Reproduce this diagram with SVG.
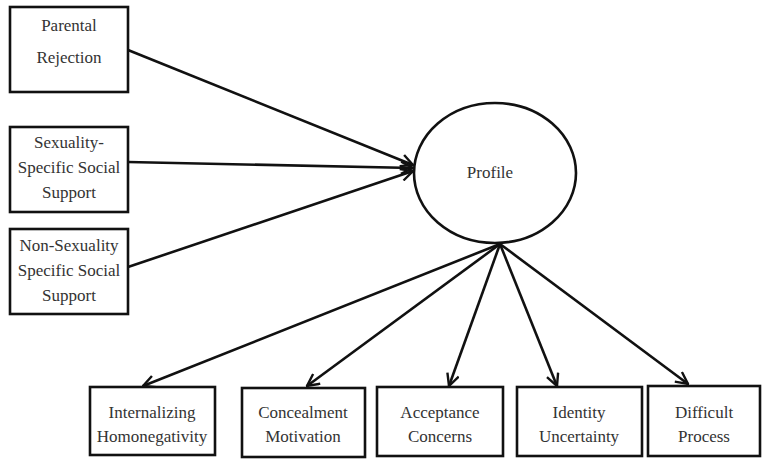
<svg xmlns="http://www.w3.org/2000/svg" width="768" height="460" viewBox="0 0 768 460">
<style>
.box{fill:#fff;stroke:#111;stroke-width:2.6}
.lbl{font-family:"Liberation Serif","Times New Roman",serif;font-size:17px;fill:#333;text-anchor:middle}
.con{stroke:#111;stroke-width:2.6;fill:none;marker-end:url(#ah)}
</style>
<defs>
<marker id="ah" viewBox="0 0 14 14" refX="13" refY="7" markerWidth="14" markerHeight="14" markerUnits="userSpaceOnUse" orient="auto">
<path d="M1,1 L13,7 L1,13" fill="none" stroke="#111" stroke-width="2.4"/>
</marker>
</defs>
<rect width="768" height="460" fill="#fff"/>
<g id="connectors">
<line class="con" x1="128" y1="50" x2="413" y2="165"/>
<line class="con" x1="128" y1="162" x2="413" y2="168"/>
<line class="con" x1="128" y1="267" x2="413" y2="171"/>
<line class="con" x1="500" y1="244" x2="143" y2="386"/>
<line class="con" x1="500" y1="244" x2="307" y2="386"/>
<line class="con" x1="500" y1="244" x2="449" y2="386"/>
<line class="con" x1="500" y1="244" x2="557" y2="386"/>
<line class="con" x1="500" y1="244" x2="688" y2="384"/>
</g>
<g id="parental">
<rect class="box" x="10" y="7" width="118" height="85"/>
<text class="lbl" x="69" y="31">Parental</text>
<text class="lbl" x="69" y="63">Rejection</text>
</g>
<g id="sexuality">
<rect class="box" x="10" y="127" width="118" height="85"/>
<text class="lbl" x="69" y="148">Sexuality-</text>
<text class="lbl" x="69" y="173">Specific Social</text>
<text class="lbl" x="69" y="198">Support</text>
</g>
<g id="nonsexuality">
<rect class="box" x="10" y="229" width="118" height="85"/>
<text class="lbl" x="69" y="251">Non-Sexuality</text>
<text class="lbl" x="69" y="276">Specific Social</text>
<text class="lbl" x="69" y="301">Support</text>
</g>
<g id="profile">
<ellipse cx="495" cy="173" rx="81" ry="70" fill="#fff" stroke="#111" stroke-width="2.6"/>
<text class="lbl" x="490" y="178">Profile</text>
</g>
<g id="internalizing">
<rect class="box" x="90" y="387" width="125" height="68"/>
<text class="lbl" x="152" y="418">Internalizing</text>
<text class="lbl" x="152" y="442">Homonegativity</text>
</g>
<g id="concealment">
<rect class="box" x="242" y="388" width="123" height="69"/>
<text class="lbl" x="303" y="418">Concealment</text>
<text class="lbl" x="303" y="442">Motivation</text>
</g>
<g id="acceptance">
<rect class="box" x="377" y="387" width="126" height="69"/>
<text class="lbl" x="440" y="418">Acceptance</text>
<text class="lbl" x="440" y="442">Concerns</text>
</g>
<g id="identity">
<rect class="box" x="517" y="387" width="125" height="69"/>
<text class="lbl" x="579" y="418">Identity</text>
<text class="lbl" x="579" y="442">Uncertainty</text>
</g>
<g id="difficult">
<rect class="box" x="648" y="386" width="112" height="70"/>
<text class="lbl" x="704" y="418">Difficult</text>
<text class="lbl" x="704" y="442">Process</text>
</g>
</svg>
